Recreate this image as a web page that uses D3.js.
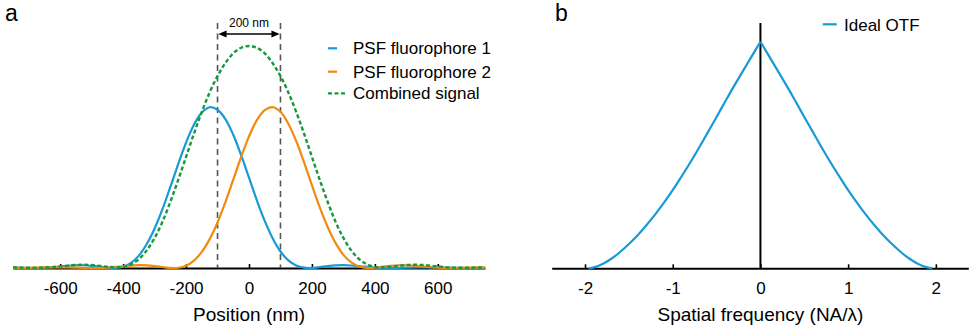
<!DOCTYPE html>
<html><head><meta charset="utf-8">
<script src="https://cdn.jsdelivr.net/npm/d3@7"></script>
<style>
body{margin:0;background:#fff}
svg text{font-family:"Liberation Sans",Arial,sans-serif;fill:#000}
</style>
</head><body>
<svg id="c" width="973" height="333"></svg>
<script>
// ---------- data ----------
const positionNm = [-750,-725,-700,-675,-650,-625,-600,-575,-550,-525,-500,-475,-450,-425,-400,-375,-350,-325,-300,-275,-250,-225,-200,-175,-150,-125,-100,-75,-50,-25,0,25,50,75,100,125,150,175,200,225,250,275,300,325,350,375,400,425,450,475,500,525,550,575,600,625,650,675,700,725,750];
const psfFluorophore1 = [0.0019,0.0009,0.0001,0.0001,0.0013,0.0036,0.0069,0.0102,0.0123,0.0124,0.0100,0.0062,0.0016,0.0001,0.0057,0.0231,0.0558,0.108,0.178,0.265,0.365,0.468,0.565,0.645,0.700,0.724,0.713,0.671,0.600,0.508,0.407,0.305,0.212,0.134,0.0744,0.0342,0.0110,0.0013,0.0004,0.0043,0.0086,0.0117,0.0127,0.0112,0.0083,0.0049,0.0021,0.0004,0,0.0005,0.0015,0.0025,0.0028,0.0030,0.0024,0.0016,0.0009,0.0003,0,0.0001,0.0001];
const psfFluorophore2 = [0,0.0003,0.0008,0.0015,0.0024,0.0030,0.0028,0.0025,0.0015,0.0005,0,0.0004,0.0020,0.0047,0.0082,0.0111,0.0127,0.0118,0.0088,0.0045,0.0005,0.0012,0.0105,0.0333,0.0726,0.130,0.205,0.297,0.398,0.500,0.593,0.666,0.711,0.725,0.704,0.650,0.572,0.476,0.373,0.273,0.185,0.113,0.059,0.025,0.0064,0.0002,0.0013,0.0058,0.0097,0.0123,0.0125,0.0104,0.0071,0.0038,0.0014,0.0002,0.0001,0.0008,0.0018,0.0026,0.0029];
const combinedSignal = [0.0027,0.0017,0.0010,0.0008,0.0018,0.0039,0.0073,0.0109,0.0136,0.0146,0.0132,0.0097,0.0056,0.0027,0.0047,0.0163,0.0397,0.0793,0.1354,0.2082,0.2978,0.3965,0.5005,0.605,0.703,0.791,0.865,0.923,0.967,0.992,1.0,0.992,0.967,0.923,0.865,0.791,0.703,0.605,0.5005,0.3965,0.2978,0.2082,0.1354,0.0793,0.0397,0.0163,0.0047,0.0027,0.0056,0.0097,0.0132,0.0146,0.0136,0.0109,0.0073,0.0039,0.0018,0.0008,0.0010,0.0017,0.0027];
const positionTicks = [-600,-400,-200,0,200,400,600];
const separationMarks = [-100,100];
const separationLabel = "200 nm";
const legendA = ["PSF fluorophore 1","PSF fluorophore 2","Combined signal"];

const spatialFreq = [-1.96,-1.9,-1.8,-1.7,-1.6,-1.5,-1.4,-1.3,-1.2,-1.1,-1.0,-0.9,-0.8,-0.7,-0.6,-0.5,-0.4,-0.3,-0.2,-0.1,0,0.1,0.2,0.3,0.4,0.5,0.6,0.7,0.8,0.9,1.0,1.1,1.2,1.3,1.4,1.5,1.6,1.7,1.8,1.9,1.96];
const idealOTF = [0,0.004,0.019,0.042,0.072,0.107,0.146,0.190,0.238,0.290,0.345,0.405,0.467,0.532,0.600,0.668,0.737,0.805,0.870,0.935,1.0,0.935,0.870,0.805,0.737,0.668,0.600,0.532,0.467,0.405,0.345,0.290,0.238,0.190,0.146,0.107,0.072,0.042,0.019,0.004,0];
const freqTicks = [-2,-1,0,1,2];
const legendB = ["Ideal OTF"];

const colors = {blue:"#179ad6", orange:"#f28a10", green:"#14993c"};

// ---------- drawing ----------
const svg = d3.select("#c");

// Panel a
const xL = d3.scaleLinear().domain([-750,750]).range([13,485]);
const yL = d3.scaleLinear().domain([0,1]).range([268,46]);

svg.append("text").attr("x",5).attr("y",21).attr("font-size",23).text("a");

const axL = svg.append("g").attr("transform","translate(0,268)")
  .call(d3.axisBottom(xL).tickValues(positionTicks).tickSize(-4).tickSizeOuter(0).tickPadding(14).tickFormat(d=>String(d)));
axL.select(".domain").attr("stroke","#000").attr("stroke-width",2);
axL.selectAll(".tick line").attr("stroke","#000").attr("stroke-width",1.6);
axL.selectAll(".tick text").attr("font-size",17).attr("font-family","Liberation Sans, Arial, sans-serif");

svg.append("text").attr("x",xL(0)).attr("y",321).attr("text-anchor","middle").attr("font-size",19).text("Position (nm)");

// dashed separation lines
svg.selectAll(".sep").data(separationMarks).enter().append("line")
  .attr("x1",d=>xL(d)).attr("x2",d=>xL(d)).attr("y1",23).attr("y2",268)
  .attr("stroke","#555").attr("stroke-width",1.6).attr("stroke-dasharray","6,4.5");

// arrow
const ay = 34, xa = xL(separationMarks[0]), xb = xL(separationMarks[1]);
svg.append("line").attr("x1",xa+4).attr("x2",xb-4).attr("y1",ay).attr("y2",ay).attr("stroke","#000").attr("stroke-width",1.3);
svg.append("path").attr("d",`M${xa+0.8},${ay} L${xa+9},${ay-3.6} L${xa+9},${ay+3.6} Z`).attr("fill","#000");
svg.append("path").attr("d",`M${xb-0.8},${ay} L${xb-9},${ay-3.6} L${xb-9},${ay+3.6} Z`).attr("fill","#000");
svg.append("text").attr("x",(xa+xb)/2).attr("y",27).attr("text-anchor","middle").attr("font-size",12).text(separationLabel);

const lineL = d3.line().x(d=>xL(d[0])).y(d=>yL(d[1])).curve(d3.curveCatmullRom.alpha(0.5));
const z = (ys)=>positionNm.map((x,i)=>[x,ys[i]]);
svg.append("path").attr("d",lineL(z(psfFluorophore1))).attr("fill","none").attr("stroke",colors.blue).attr("stroke-width",2.2);
svg.append("path").attr("d",lineL(z(psfFluorophore2))).attr("fill","none").attr("stroke",colors.orange).attr("stroke-width",2.2);
svg.append("path").attr("d",lineL(z(combinedSignal))).attr("fill","none").attr("stroke",colors.green).attr("stroke-width",2.4).attr("stroke-dasharray","4,2.5");

// legend a
const legY = [48.3,71.7,93.3];
const legCol = [colors.blue,colors.orange,colors.green];
legendA.forEach((t,i)=>{
  const ln = svg.append("line").attr("x1",328).attr("x2",i===2?345:337).attr("y1",legY[i]).attr("y2",legY[i])
    .attr("stroke",legCol[i]).attr("stroke-width",2.2);
  if(i===2) ln.attr("stroke-dasharray","4,2.5");
  svg.append("text").attr("x",353).attr("y",legY[i]+6).attr("font-size",17).text(t);
});

// Panel b
const xR = d3.scaleLinear().domain([-2.38,2.37]).range([551.7,968.3]);
const yR = d3.scaleLinear().domain([0,1]).range([268.3,41.7]);

svg.append("text").attr("x",555).attr("y",21).attr("font-size",23).text("b");

const axR = svg.append("g").attr("transform","translate(0,268.3)")
  .call(d3.axisBottom(xR).tickValues(freqTicks).tickSize(-4).tickSizeOuter(0).tickPadding(14).tickFormat(d=>String(d)));
axR.select(".domain").attr("stroke","#000").attr("stroke-width",2);
axR.selectAll(".tick line").attr("stroke","#000").attr("stroke-width",1.6);
axR.selectAll(".tick text").attr("font-size",17).attr("font-family","Liberation Sans, Arial, sans-serif");

svg.append("text").attr("x",xR(0)).attr("y",321).attr("text-anchor","middle").attr("font-size",19).text("Spatial frequency (NA/λ)");

svg.append("line").attr("x1",xR(0)).attr("x2",xR(0)).attr("y1",23).attr("y2",268.3).attr("stroke","#000").attr("stroke-width",2);

const lineR = d3.line().x(d=>xR(d[0])).y(d=>yR(d[1])).curve(d3.curveCatmullRom.alpha(0.5));
const otfPts = spatialFreq.map((f,i)=>[f,idealOTF[i]]);
const leftHalf = otfPts.filter(p=>p[0]<=0), rightHalf = otfPts.filter(p=>p[0]>=0);
[leftHalf,rightHalf].forEach(h=>svg.append("path").attr("d",lineR(h)).attr("fill","none").attr("stroke",colors.blue).attr("stroke-width",2.2).attr("stroke-linejoin","round"));

svg.append("line").attr("x1",822.7).attr("x2",836.7).attr("y1",24.3).attr("y2",24.3).attr("stroke",colors.blue).attr("stroke-width",2.2);
svg.append("text").attr("x",844).attr("y",31).attr("font-size",17).text(legendB[0]);
</script>
</body></html>
